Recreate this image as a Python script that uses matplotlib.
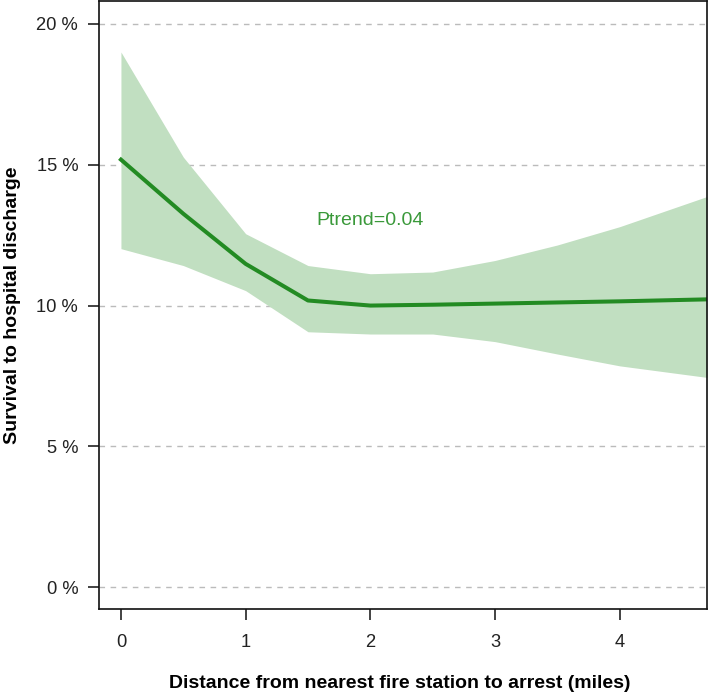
import matplotlib
matplotlib.use("Agg")
import matplotlib.pyplot as plt

plt.rcParams['font.family'] = ['Liberation Sans', 'DejaVu Sans']

# Data (survival %, by distance in miles)
distance = [0.0, 0.5, 1.0, 1.5, 2.0, 2.5, 3.0, 3.5, 4.0, 4.7]
estimate = [15.18, 13.26, 11.48, 10.18, 10.0, 10.03, 10.07, 10.11, 10.15, 10.22]
upper = [19.0, 15.27, 12.55, 11.42, 11.13, 11.19, 11.6, 12.15, 12.8, 13.87]
lower = [12.02, 11.42, 10.53, 9.07, 8.99, 8.99, 8.72, 8.28, 7.86, 7.45]

y_ticks = [0, 5, 10, 15, 20]
y_tick_labels = ["0 %", "5 %", "10 %", "15 %", "20 %"]
x_ticks = [0, 1, 2, 3, 4]
annotation = "Ptrend=0.04"

W, H = 709, 697
fig = plt.figure(figsize=(W / 100, H / 100), dpi=100)
ax = fig.add_axes([99 / W, (H - 609) / H, (707 - 99) / W, (609 - 1) / H])

for yv in y_ticks:
    ax.axhline(yv, color='#bbbbbb', lw=1.0, ls=(0, (4, 4)), zorder=0)

ax.fill_between(distance, lower, upper, color='#c1dfc1', lw=0, zorder=1)
ax.plot(distance, estimate, color='#238b23', lw=2.9, zorder=2, solid_joinstyle='round')

ax.text(2.0, 13.02, annotation, color='#3a993a', fontsize=14, ha='center', va='center')

ax.set_xlim(-0.176, 4.70)
ax.set_ylim(-0.77, 20.81)
ax.set_xticks(x_ticks)
ax.set_xticklabels([str(t) for t in x_ticks])
ax.set_yticks(y_ticks)
ax.set_yticklabels(y_tick_labels)
ax.tick_params(axis='x', direction='out', length=8, width=1.2, pad=10, labelsize=13.2, colors='#222222')
ax.tick_params(axis='y', direction='out', length=8, width=1.2, pad=7, labelsize=13.2, colors='#222222')
for s in ax.spines.values():
    s.set_linewidth(1.2)
    s.set_color('#111111')

ax.set_xlabel("Distance from nearest fire station to arrest (miles)", fontsize=14,
              fontweight='bold')
ax.xaxis.set_label_coords((400 - 99) / (707 - 99), -(684 - 609) / (609 - 1))
ax.xaxis.label.set_va('center')
ax.set_ylabel("Survival to hospital discharge", fontsize=14, fontweight='bold')
ax.yaxis.set_label_coords(-(99 - 13) / (707 - 99), (609 - 305) / (609 - 1))
ax.yaxis.label.set_va('center')

fig.savefig("out.png", dpi=100)
